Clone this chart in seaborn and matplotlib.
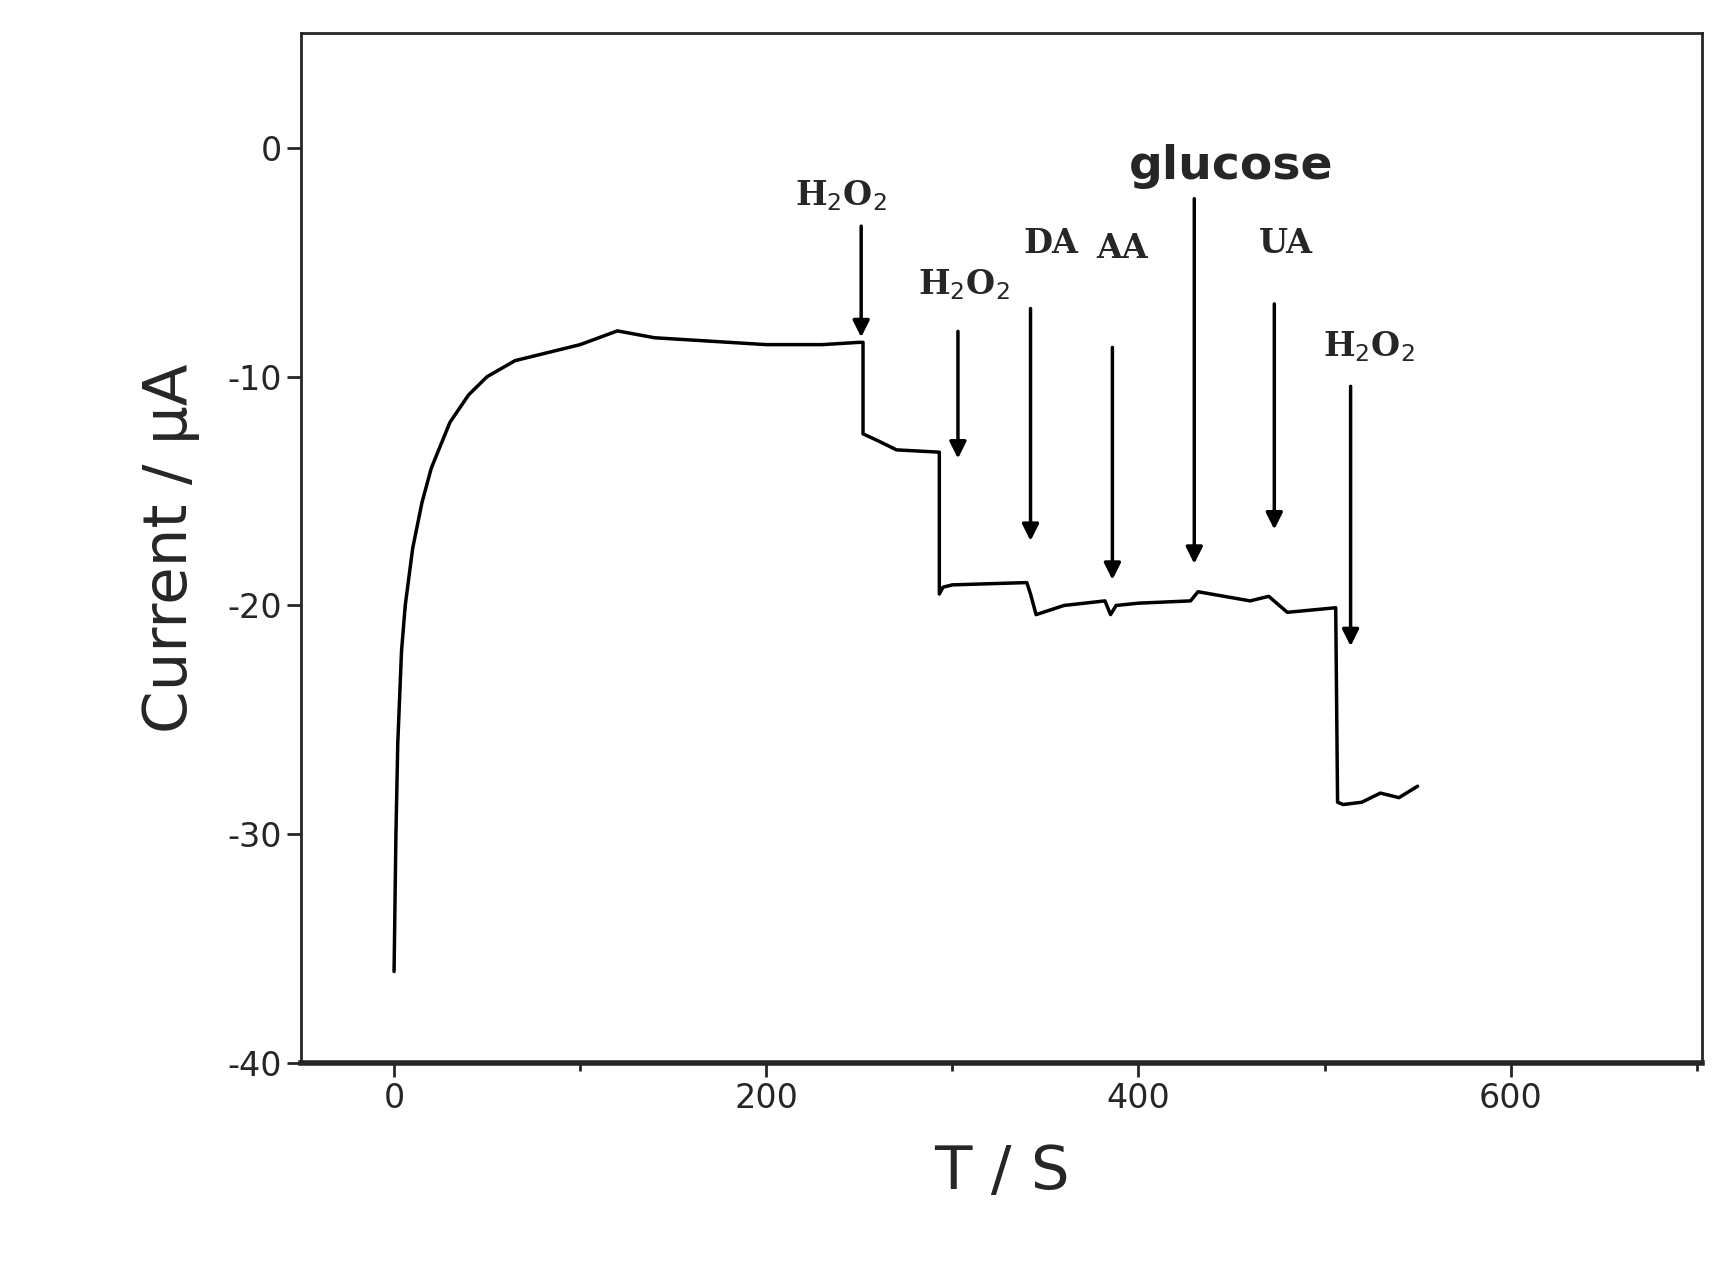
import numpy as np
import matplotlib.pyplot as plt
import seaborn as sns

# amperometric trace (s, uA)
time = [0, 1, 2, 4, 6, 10, 15, 20, 30, 40, 50, 65, 80, 100, 120, 140, 160, 200, 230, 250,
        252, 252, 260, 270, 293, 293, 295, 300, 340, 342, 345, 360, 382, 385, 388, 400, 428, 432,
        460, 470, 480, 506, 507, 510, 520, 530, 540, 550]
current = [-36, -30, -26, -22, -20, -17.5, -15.5, -14, -12, -10.8, -10, -9.3, -9, -8.6, -8.0, -8.3, -8.4, -8.6, -8.6, -8.5,
           -8.5, -12.5, -12.8, -13.2, -13.3, -19.5, -19.2, -19.1, -19.0, -19.5, -20.4, -20.0, -19.8, -20.4, -20.0, -19.9, -19.8, -19.4,
           -19.8, -19.6, -20.3, -20.1, -28.6, -28.7, -28.6, -28.2, -28.4, -27.9]

labels = ['H$_2$O$_2$', 'H$_2$O$_2$', 'DA', 'AA', 'glucose', 'UA', 'H$_2$O$_2$']
arrow_x = [251, 303, 342, 386, 430, 473, 514]
arrow_top = [-3.3, -7.9, -6.9, -8.6, -2.1, -6.7, -10.3]
arrow_end = [-8.4, -13.7, -17.3, -19.0, -18.3, -16.8, -21.9]
label_x = [240, 306, 353, 391, 450, 479, 524]
label_y = [-2.1, -6.0, -4.2, -4.4, -0.8, -4.2, -8.7]

sns.set_style("ticks")
plt.rcParams['axes.unicode_minus'] = False
fig, ax = plt.subplots(figsize=(17.3, 12.87), dpi=100)
fig.subplots_adjust(left=0.174, right=0.984, top=0.974, bottom=0.174)

sns.lineplot(x=time, y=current, color='black', linewidth=2.5, ax=ax,
             estimator=None, sort=False)

for lab, x, y0, y1, tx, ty in zip(labels, arrow_x, arrow_top, arrow_end, label_x, label_y):
    ax.annotate('', xy=(x, y1), xytext=(x, y0),
                arrowprops=dict(arrowstyle='-|>', color='black', lw=2.5, mutation_scale=25))
    if lab == 'glucose':
        ax.text(tx, ty, lab, fontsize=34, fontweight='bold', ha='center', va='center')
    else:
        ax.text(tx, ty, lab, fontsize=24, fontweight='bold', family='DejaVu Serif',
                ha='center', va='center')

ax.set_xlim(-50, 703)
ax.set_ylim(-40, 5)
ax.set_xticks([0, 200, 400, 600])
ax.set_xticks([100, 300, 500, 700], minor=True)
ax.set_yticks([-40, -30, -20, -10, 0])
ax.tick_params(which='major', length=10, width=2, labelsize=24, direction='out')
ax.tick_params(which='minor', length=6, width=2, direction='out')
ax.set_xlabel('T / S', fontsize=44, labelpad=20)
ax.set_ylabel('Current / µA', fontsize=44, labelpad=20)
for s in ax.spines.values():
    s.set_linewidth(2)
ax.spines['bottom'].set_linewidth(4)

fig.savefig('out.png', dpi=100)
